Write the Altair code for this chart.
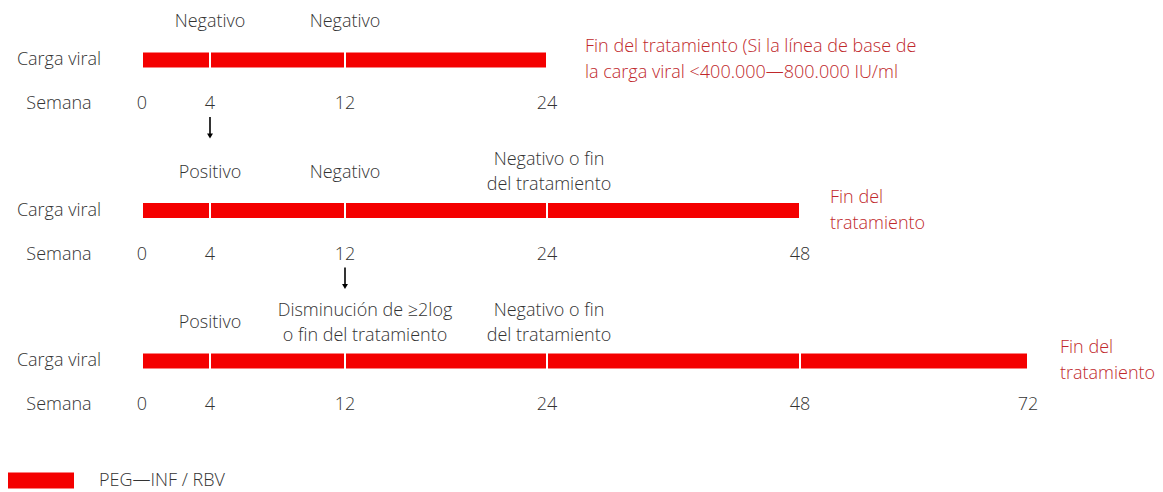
import altair as alt
import pandas as pd

# ---------------- data ----------------
week_ticks = [0, 4, 12, 24, 48, 72]
row_end_week = [24, 48, 72]
side_labels = ["Carga viral", "Semana"]
ann_row = [0, 0, 1, 1, 1, 2, 2, 2]
ann_week = [4, 12, 4, 12, 24, 4, 12, 24]
ann_text = [
    "Negativo",
    "Negativo",
    "Positivo",
    "Negativo",
    "Negativo o fin\ndel tratamiento",
    "Positivo",
    "Disminución de ≥2log\no fin del tratamiento",
    "Negativo o fin\ndel tratamiento",
]
end_text = [
    "Fin del tratamiento (Si la línea de base de\nla carga viral <400.000—800.000 IU/ml",
    "Fin del\ntratamiento",
    "Fin del\ntratamiento",
]
arrow_row = [0, 1]
arrow_week = [4, 12]
treatment = "PEG—INF / RBV"

# ---------------- layout / style ----------------
W, H = 1147, 484
X_RANGE = [134, 202, 337, 539, 792, 1020]
ROW_Y0, ROW_GAP = 52, 150.5
BAR_HALF = 8.5
ANN_LH, END_LH = 25, 26
ANN_DX = [0, 0, 0, 0, 2, 0, 20, 2]
END_DX = [38, 30, 32]
FONT = "Open Sans"
FS = 18
WEIGHT = 300
TXT = "#333333"
RED_TXT = "#c0282b"
BAR_RED = "#f40000"


def row_y(r):
    return ROW_Y0 + ROW_GAP * r


def nlines(t):
    return t.count("\n") + 1


seg_rows, tick_rows = [], []
for r, end in enumerate(row_end_week):
    ticks = [w for w in week_ticks if w <= end]
    for a, b in zip(ticks[:-1], ticks[1:]):
        seg_rows.append(dict(row=r, start=a, end=b, y0=row_y(r) - BAR_HALF,
                             y1=row_y(r) + BAR_HALF, tratamiento=treatment))
    for w in ticks:
        tick_rows.append(dict(row=r, week=w, label=str(w), y=row_y(r) + 44))

seg_df = pd.DataFrame(seg_rows)
tick_df = pd.DataFrame(tick_rows)
ann_df = pd.DataFrame(dict(
    week=ann_week, text=ann_text, dx=ANN_DX,
    y=[row_y(r) - 38 - (nlines(t) - 1) * ANN_LH / 2 for r, t in zip(ann_row, ann_text)]))
end_df = pd.DataFrame(dict(
    week=row_end_week, text=end_text, row=list(range(len(row_end_week))),
    y=[row_y(r) - (nlines(t) - 1) * END_LH / 2 for r, t in enumerate(end_text)]))
arrow_df = pd.DataFrame(dict(week=arrow_week,
                             y0=[row_y(r) + 57 for r in arrow_row],
                             y1=[row_y(r) + 75 for r in arrow_row],
                             yh=[row_y(r) + 76 for r in arrow_row]))
side_df = pd.DataFrame(dict(
    text=[side_labels[0]] * 3 + [side_labels[1]] * 3,
    y=[row_y(r) for r in range(3)] + [row_y(r) + 44 for r in range(3)],
))

xs = alt.Scale(domain=week_ticks, range=X_RANGE)
ys = alt.Scale(domain=[0, H], range=[0, H])
X = lambda f: alt.X(f, type="quantitative", scale=xs, axis=None)
Y = lambda f: alt.Y(f, type="quantitative", scale=ys, axis=None)
txt = dict(font=FONT, fontSize=FS, fontWeight=WEIGHT, baseline="middle")

bars = alt.Chart(seg_df).mark_bar(stroke="white", strokeWidth=2).encode(
    x=X("start"), x2="end", y=Y("y0"), y2="y1",
    color=alt.Color("tratamiento:N", scale=alt.Scale(range=[BAR_RED]),
                    legend=alt.Legend(orient="none", legendX=-1, legendY=439,
                                      title=None,
                                      symbolType="M-1,-0.24L1,-0.24L1,0.24L-1,0.24Z",
                                      symbolSize=4489, symbolStrokeWidth=0,
                                      symbolOpacity=1,
                                      labelFont=FONT, labelFontSize=FS,
                                      labelFontWeight=WEIGHT,
                                      labelColor=TXT, labelOffset=25)),
)

ticks = alt.Chart(tick_df).mark_text(color=TXT, **txt).encode(
    x=X("week"), y=Y("y"), text="label:N")

ann_layers = []
for d in sorted(set(ANN_DX)):
    ann_layers.append(
        alt.Chart(ann_df).transform_filter(alt.datum.dx == d)
        .mark_text(color=TXT, lineBreak="\n", lineHeight=ANN_LH, dx=d, **txt)
        .encode(x=X("week"), y=Y("y"), text="text:N"))

end_layers = []
for r, d in enumerate(END_DX):
    end_layers.append(
        alt.Chart(end_df).transform_filter(alt.datum.row == r)
        .mark_text(color=RED_TXT, align="left", lineBreak="\n",
                   lineHeight=END_LH, dx=d, **txt)
        .encode(x=X("week"), y=Y("y"), text="text:N"))

side = alt.Chart(side_df).mark_text(color=TXT, **txt).encode(
    x=alt.value(51), y=Y("y"), text="text:N")

arrow_line = alt.Chart(arrow_df).mark_rule(color="black", strokeWidth=1.6).encode(
    x=X("week"), y=Y("y0"), y2="y1")
arrow_head = alt.Chart(arrow_df).mark_point(shape="triangle-down", filled=True,
                                            color="black", size=35,
                                            opacity=1).encode(
    x=X("week"), y=Y("yh"))

chart = alt.layer(bars, ticks, *ann_layers, *end_layers, side, arrow_line,
                  arrow_head).properties(
    width=W, height=H, padding=0, autosize="none", background="white"
).configure_view(stroke=None)

chart.save("out.html", embed_options={"renderer": "svg", "actions": False})
